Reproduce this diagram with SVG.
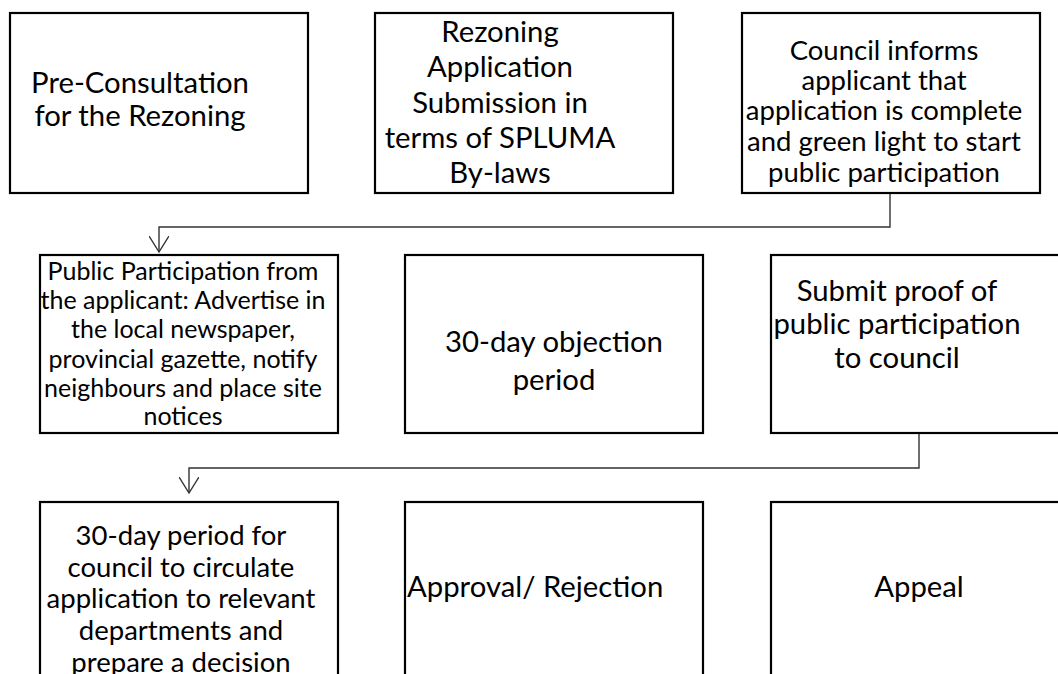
<svg xmlns="http://www.w3.org/2000/svg" width="1058" height="674" viewBox="0 0 1058 674">
<defs>
<style>
.box{fill:#fff;stroke:#000;stroke-width:2.2}
.t{font-family:Lato,"Liberation Sans",sans-serif;fill:#000;text-anchor:middle}
.s29{font-size:29.3px}
.s27{font-size:27.5px}
.s25{font-size:25px}
.con{fill:none;stroke:#333;stroke-width:1.4}
</style>
<marker id="arr" markerWidth="24" markerHeight="20" refX="16" refY="10" orient="auto" markerUnits="userSpaceOnUse">
<path d="M0,0 L16,10 L0,20" fill="none" stroke="#333" stroke-width="1.4"/>
</marker>
</defs>
<rect width="1058" height="674" fill="#fff"/>
<g id="connectors">
<path class="con" d="M890,193 V227 H159 V252" marker-end="url(#arr)"/>
<path class="con" d="M919,433 V468 H189 V493" marker-end="url(#arr)"/>
</g>
<g id="n1">
<rect class="box" x="10" y="13" width="298" height="180"/>
<text class="t s29"><tspan x="140" y="93">Pre-Consultation</tspan><tspan x="140" y="126">for the Rezoning</tspan></text>
</g>
<g id="n2">
<rect class="box" x="375" y="13" width="298" height="180"/>
<text class="t s29"><tspan x="500" y="42">Rezoning</tspan><tspan x="500" y="77">Application</tspan><tspan x="500" y="113">Submission in</tspan><tspan x="500" y="148">terms of SPLUMA</tspan><tspan x="500" y="183">By-laws</tspan></text>
</g>
<g id="n3">
<rect class="box" x="742" y="13" width="298" height="180"/>
<text class="t s27"><tspan x="884" y="60">Council informs</tspan><tspan x="884" y="90">applicant that</tspan><tspan x="884" y="120">application is complete</tspan><tspan x="884" y="151">and green light to start</tspan><tspan x="884" y="182">public participation</tspan></text>
</g>
<g id="n4">
<rect class="box" x="40" y="255" width="298" height="178"/>
<text class="t s25"><tspan x="183" y="280">Public Participation from</tspan><tspan x="183" y="309">the applicant: Advertise in</tspan><tspan x="183" y="338">the local newspaper,</tspan><tspan x="183" y="368">provincial gazette, notify</tspan><tspan x="183" y="397">neighbours and place site</tspan><tspan x="183" y="425">notices</tspan></text>
</g>
<g id="n5">
<rect class="box" x="405" y="255" width="298" height="178"/>
<text class="t s29"><tspan x="554" y="352">30-day objection</tspan><tspan x="554" y="390">period</tspan></text>
</g>
<g id="n6">
<rect class="box" x="771" y="255" width="298" height="178"/>
<text class="t s29"><tspan x="897" y="301">Submit proof of</tspan><tspan x="897" y="334">public participation</tspan><tspan x="897" y="368">to council</tspan></text>
</g>
<g id="n7">
<rect class="box" x="40" y="502" width="298" height="190"/>
<text class="t s27"><tspan x="181" y="545">30-day period for</tspan><tspan x="181" y="577">council to circulate</tspan><tspan x="181" y="608">application to relevant</tspan><tspan x="181" y="640">departments and</tspan><tspan x="181" y="672">prepare a decision</tspan></text>
</g>
<g id="n8">
<rect class="box" x="405" y="502" width="298" height="190"/>
<text class="t s29" style="text-anchor:start"><tspan x="407" y="597">Approval/ Rejection</tspan></text>
</g>
<g id="n9">
<rect class="box" x="771" y="502" width="298" height="190"/>
<text class="t s29"><tspan x="919" y="597">Appeal</tspan></text>
</g>
</svg>
